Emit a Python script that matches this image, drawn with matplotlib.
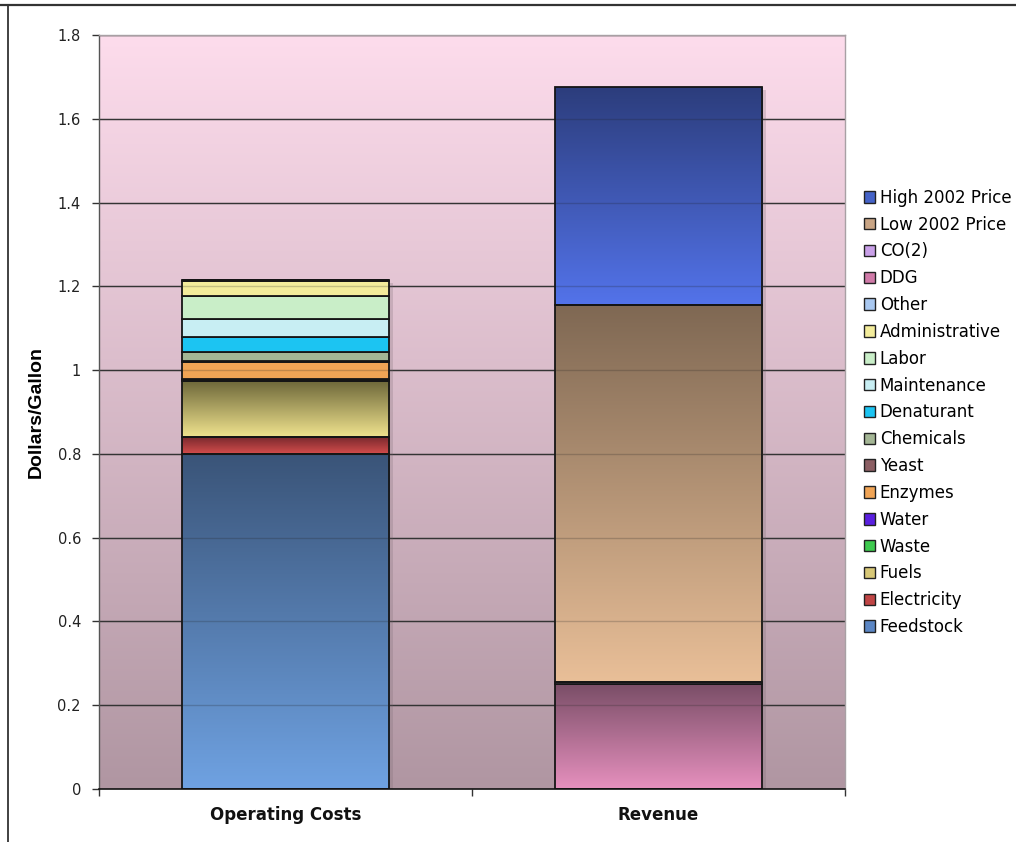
import numpy as np
import matplotlib
matplotlib.use("Agg")
import matplotlib.pyplot as plt
from matplotlib.colors import LinearSegmentedColormap
from matplotlib.transforms import offset_copy

# Categories on the x axis
categories = ["Operating Costs", "Revenue"]

# Stacked series, bottom to top: (label, [operating costs, revenue])
series_labels = [
    "Feedstock", "Electricity", "Fuels", "Waste", "Water", "Enzymes", "Yeast",
    "Chemicals", "Denaturant", "Maintenance", "Labor", "Administrative", "Other",
    "DDG", "CO(2)", "Low 2002 Price", "High 2002 Price",
]
feedstock = [0.80, 0.0]
electricity = [0.04, 0.0]
fuels = [0.133, 0.0]
waste = [0.004, 0.0]
water = [0.002, 0.0]
enzymes = [0.040, 0.0]
yeast = [0.003, 0.0]
chemicals = [0.022, 0.0]
denaturant = [0.036, 0.0]
maintenance = [0.043, 0.0]
labor = [0.054, 0.0]
administrative = [0.035, 0.0]
other = [0.003, 0.0]
ddg = [0.0, 0.25]
co2 = [0.0, 0.006]
low_2002 = [0.0, 0.90]
high_2002 = [0.0, 0.52]

series_values = [feedstock, electricity, fuels, waste, water, enzymes, yeast,
                 chemicals, denaturant, maintenance, labor, administrative, other,
                 ddg, co2, low_2002, high_2002]

y_ticks = [0, 0.2, 0.4, 0.6, 0.8, 1.0, 1.2, 1.4, 1.6, 1.8]
y_tick_labels = ["0", "0.2", "0.4", "0.6", "0.8", "1", "1.2", "1.4", "1.6", "1.8"]

# Fill colours (legend swatches) and vertical gradients (top, bottom) for shaded series
solid_colors = {
    "Feedstock": "#5b86c4", "Electricity": "#c04545", "Fuels": "#d8c877",
    "Waste": "#3dc94e", "Water": "#5a1fe0", "Enzymes": "#f0a455",
    "Yeast": "#8b5e63", "Chemicals": "#a4b695", "Denaturant": "#1cc4f2",
    "Maintenance": "#c8eef3", "Labor": "#c9eec8", "Administrative": "#f3ec9b",
    "Other": "#a9c8f0", "DDG": "#d07aa8", "CO(2)": "#c9a0e8",
    "Low 2002 Price": "#c9a585", "High 2002 Price": "#4563c8",
}
gradients = {
    "Feedstock": ("#3a5478", "#6fa2e2"),
    "Electricity": ("#7a2a2e", "#d44c4c"),
    "Fuels": ("#6e683a", "#f0e38e"),
    "DDG": ("#7a4e67", "#e690be"),
    "Low 2002 Price": ("#7f6853", "#e9bf98"),
    "High 2002 Price": ("#2c3d7c", "#5373ea"),
}

fig = plt.figure(figsize=(10.16, 8.42), dpi=100)
ax = fig.add_axes([99 / 1016, 1 - 789 / 842, 746 / 1016, 754 / 842])

# Plot-area background: pink fading to mauve
bg_cmap = LinearSegmentedColormap.from_list("bg", ["#b096a2", "#fddcec"])
ax.imshow(np.linspace(0, 1, 256).reshape(-1, 1), cmap=bg_cmap, origin="lower",
          extent=[0, 1, 0, 1], transform=ax.transAxes, aspect="auto", zorder=0)
ax.patch.set_visible(False)

x = np.arange(len(categories))
bar_width = 0.555

# Soft drop shadow behind each column
totals = np.sum(np.array(series_values), axis=0)
shadow_tr = offset_copy(ax.transData, fig=fig, x=4, y=-3, units="dots")
ax.bar(x, totals, bar_width, color="#7a6a72", alpha=0.25, linewidth=0,
       transform=shadow_tr, zorder=0.8)

# Gridlines behind the columns
for yv in y_ticks[1:]:
    ax.axhline(yv, color="#3a3a3a", lw=1.0, zorder=0.5)

bottom = np.zeros(len(categories))
containers = []
for label, vals in zip(series_labels, series_values):
    vals = np.array(vals, dtype=float)
    bc = ax.bar(x, vals, bar_width, bottom=bottom, label=label,
                color=solid_colors[label], edgecolor="#151515", linewidth=1.3,
                zorder=2)
    containers.append((label, bc))
    bottom = bottom + vals

ax.set_xlim(-0.5, 1.5)
ax.set_ylim(0, 1.8)

handles, labels = ax.get_legend_handles_labels()
leg = ax.legend(handles[::-1], labels[::-1], loc="upper left",
                bbox_to_anchor=(857 / 1016, 1 - 182 / 842),
                bbox_transform=fig.transFigure, frameon=False,
                fontsize=12, handlelength=0.68, handleheight=0.68,
                handletextpad=0.28, labelspacing=0.53, borderaxespad=0)
for h in leg.legend_handles:
    h.set_edgecolor("#222222")
    h.set_linewidth(1.0)

# Vertical shading inside the shaded segments
for label, bc in containers:
    if label not in gradients:
        continue
    top_c, bot_c = gradients[label]
    cmap = LinearSegmentedColormap.from_list(label, [bot_c, top_c])
    for patch in bc.patches:
        h = patch.get_height()
        if h <= 0:
            continue
        x0, y0, w = patch.get_x(), patch.get_y(), patch.get_width()
        ax.imshow(np.linspace(0, 1, 256).reshape(-1, 1), cmap=cmap,
                  origin="lower", extent=[x0, x0 + w, y0, y0 + h],
                  aspect="auto", zorder=1.5, interpolation="bilinear")
        patch.set_facecolor("none")

ax.set_xlim(-0.5, 1.5)
ax.set_ylim(0, 1.8)

# Faint gridlines showing through the columns
for yv in y_ticks[1:]:
    ax.axhline(yv, color="#202020", lw=1.0, alpha=0.22, zorder=2.5)

ax.set_yticks(y_ticks)
ax.set_yticklabels(y_tick_labels)
ax.set_xticks(x)
ax.set_xticklabels(categories, fontweight="bold", fontsize=12)
ax.set_xticks([-0.5, 0.5, 1.5], minor=True)
ax.tick_params(axis="x", which="major", length=0, pad=12, colors="#111111")
ax.tick_params(axis="x", which="minor", length=5, color="#333333", width=1)
ax.tick_params(axis="y", which="major", length=5, width=1, color="#333333",
               labelsize=10.5, pad=8, labelcolor="#222222")

ax.set_ylabel("Dollars/Gallon", fontsize=14, fontweight="bold",
              family=["Liberation Sans Narrow", "Liberation Sans", "DejaVu Sans"])
ax.yaxis.set_label_coords(-0.073, 0.5)

for side in ["top", "right"]:
    ax.spines[side].set_color("#a8a0a4")
    ax.spines[side].set_linewidth(1.0)
ax.spines["left"].set_color("#555555")
ax.spines["bottom"].set_color("#111111")
ax.spines["left"].set_linewidth(1.0)
ax.spines["bottom"].set_linewidth(1.2)

# Page frame lines along the top and left
fig.add_artist(plt.Line2D([0, 1], [1 - 5 / 842, 1 - 5 / 842],
                          transform=fig.transFigure, color="#333333", lw=1.6))
fig.add_artist(plt.Line2D([8 / 1016, 8 / 1016], [0, 1 - 5 / 842],
                          transform=fig.transFigure, color="#333333", lw=1.3))

fig.savefig("out.png", dpi=100, facecolor="white")
